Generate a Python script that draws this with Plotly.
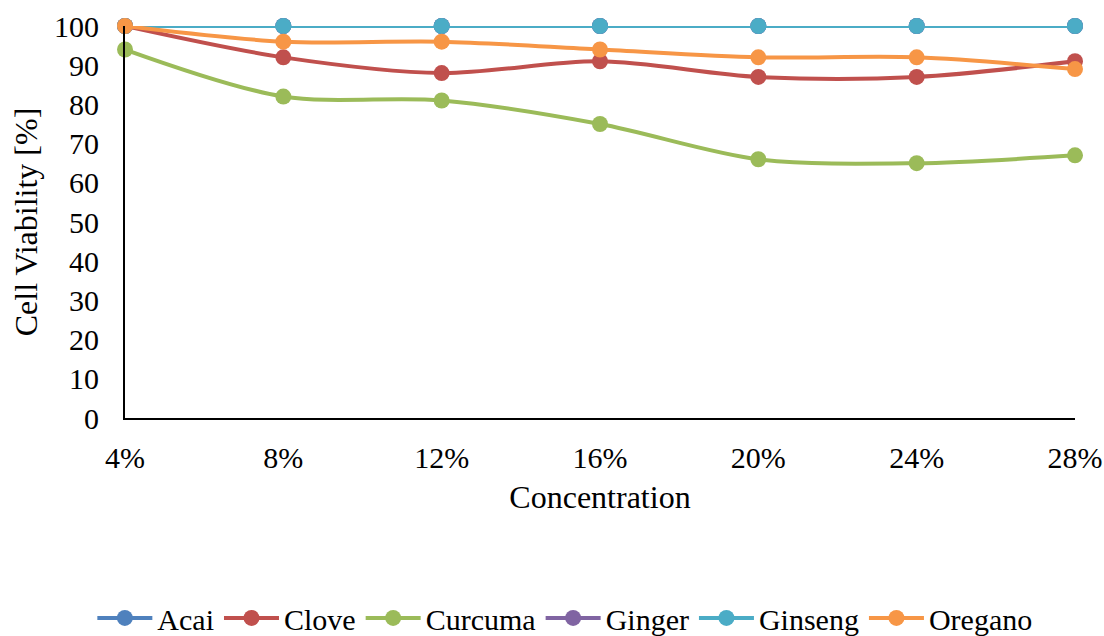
import plotly.graph_objects as go

concentrations = ["4%", "8%", "12%", "16%", "20%", "24%", "28%"]
acai = [100, 100, 100, 100, 100, 100, 100]
clove = [100, 92, 88, 91, 87, 87, 91]
curcuma = [94, 82, 81, 75, 66, 65, 67]
ginger = [100, 100, 100, 100, 100, 100, 100]
ginseng = [100, 100, 100, 100, 100, 100, 100]
oregano = [100, 96, 96, 94, 92, 92, 89]

series = [
    ("Acai", acai, "#4F81BD"),
    ("Clove", clove, "#C0504D"),
    ("Curcuma", curcuma, "#9BBB59"),
    ("Ginger", ginger, "#8064A2"),
    ("Ginseng", ginseng, "#4BACC6"),
    ("Oregano", oregano, "#F79646"),
]

FONT = "Liberation Serif"

fig = go.Figure()
for name, vals, color in series:
    fig.add_trace(go.Scatter(
        x=concentrations, y=vals, name=name, mode="lines+markers",
        line=dict(color=color, width=4, shape="spline", smoothing=0.9),
        marker=dict(color=color, size=16),
        cliponaxis=False,
    ))

fig.update_layout(
    width=1104, height=636,
    margin=dict(l=125, r=29, t=26, b=218, autoexpand=False),
    plot_bgcolor="white", paper_bgcolor="white",
    font=dict(family=FONT, size=30, color="black"),
    showlegend=True,
    legend=dict(orientation="h", x=0.463, xanchor="center", y=-0.51, yanchor="middle",
                font=dict(family=FONT, size=30), tracegroupgap=0, itemwidth=55),
    xaxis=dict(
        type="category", range=[0, 6], showgrid=False, zeroline=False,
        showline=True, linecolor="black", linewidth=2, ticks="",
        ticklabelstandoff=12, automargin=False,
        tickfont=dict(family=FONT, size=30),
        title=dict(text="Concentration", standoff=13, font=dict(family=FONT, size=32)),
    ),
    yaxis=dict(
        range=[0, 100], dtick=10, showgrid=False, zeroline=False,
        showline=True, linecolor="black", linewidth=2, ticks="",
        ticklabelstandoff=18, automargin=False,
        tickfont=dict(family=FONT, size=30),
        title=dict(text="Cell Viability [%]", standoff=7, font=dict(family=FONT, size=32)),
    ),
)

fig.write_html("out.html", config={"displayModeBar": False},
               post_script="document.body.style.margin='0';")
